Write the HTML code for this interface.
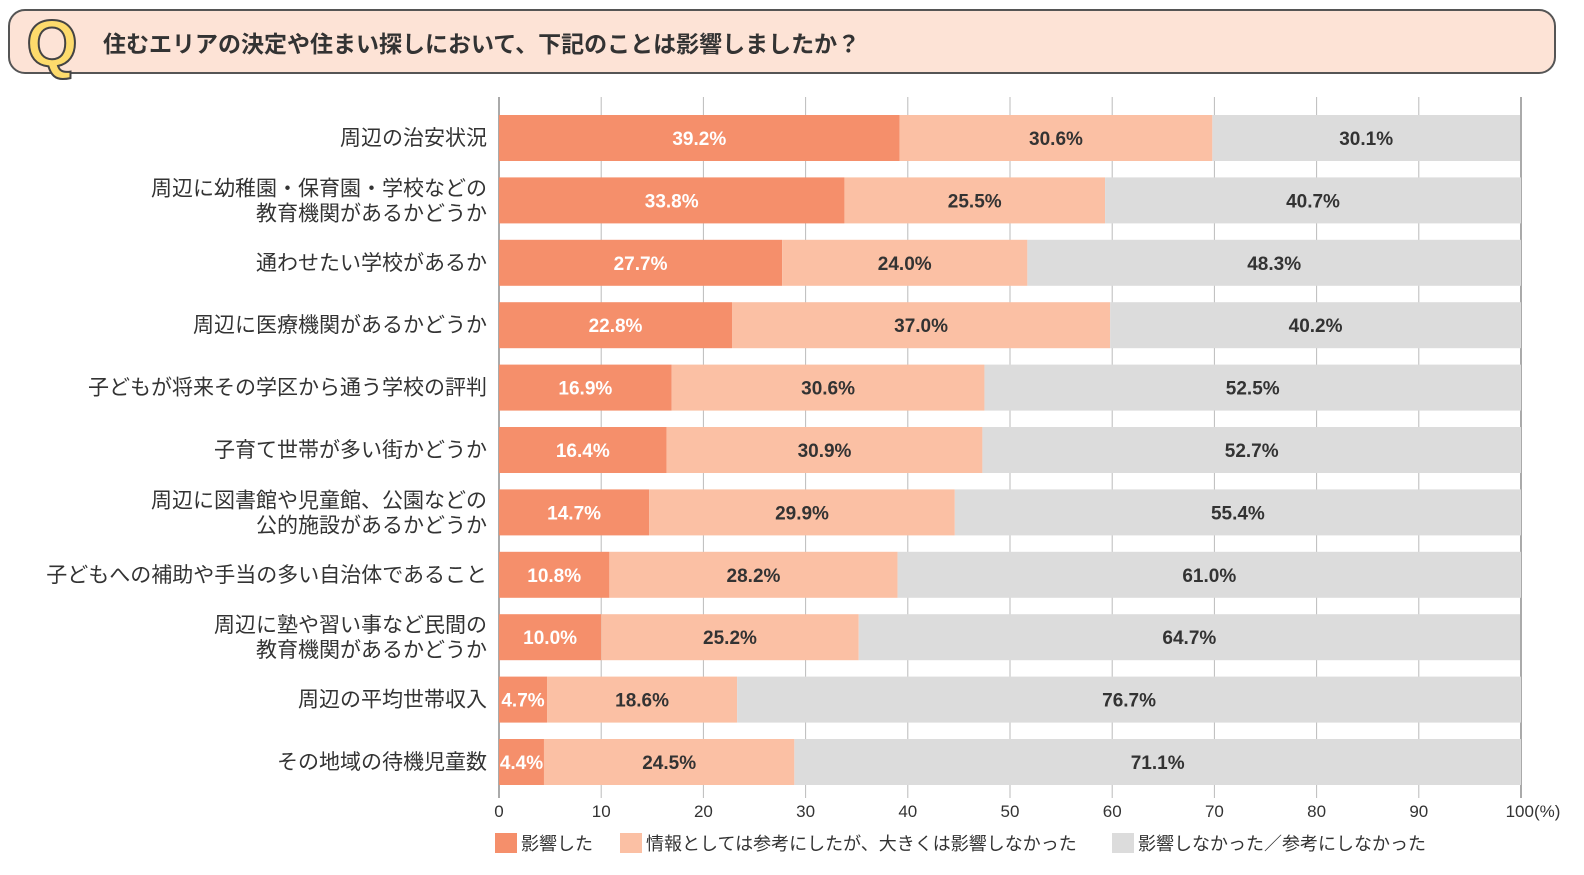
<!DOCTYPE html>
<html><head><meta charset="utf-8"><style>
body{margin:0;width:1584px;height:870px;background:#fff;font-family:"Liberation Sans","Noto Sans CJK JP",sans-serif;overflow:hidden}
</style></head><body>
<svg width="1584" height="870" xmlns="http://www.w3.org/2000/svg" font-family="Liberation Sans, Noto Sans CJK JP, sans-serif">
<g>
<rect x="9" y="10" width="1546" height="63" rx="16" fill="#fde3d6" stroke="#555" stroke-width="2"/>
<text x="52" y="66" text-anchor="middle" font-size="66" font-weight="bold" fill="#fddb6c" stroke="#444" stroke-width="2">Q</text>
<text x="103" y="52" font-size="23" font-weight="bold" fill="#333">住むエリアの決定や住まい探しにおいて、下記のことは影響しましたか？</text>
</g>
<g id="grid"></g><g id="bars"></g><g id="axis"></g>
<g font-size="18" fill="#333">
<rect x="495" y="833" width="22" height="20" fill="#f58f6b"/>
<text x="521" y="850">影響した</text>
<rect x="620" y="833" width="22" height="20" fill="#fbc0a4"/>
<text x="646" y="850">情報としては参考にしたが、大きくは影響しなかった</text>
<rect x="1112" y="833" width="22" height="20" fill="#dcdcdc"/>
<text x="1138" y="850">影響しなかった／参考にしなかった</text>
</g>
</svg>
<script>
const categories=[["周辺の治安状況"],["周辺に幼稚園・保育園・学校などの","教育機関があるかどうか"],["通わせたい学校があるか"],["周辺に医療機関があるかどうか"],["子どもが将来その学区から通う学校の評判"],["子育て世帯が多い街かどうか"],["周辺に図書館や児童館、公園などの","公的施設があるかどうか"],["子どもへの補助や手当の多い自治体であること"],["周辺に塾や習い事など民間の","教育機関があるかどうか"],["周辺の平均世帯収入"],["その地域の待機児童数"]];
const influenced=[39.2,33.8,27.7,22.8,16.9,16.4,14.7,10.8,10.0,4.7,4.4];
const reference=[30.6,25.5,24.0,37.0,30.6,30.9,29.9,28.2,25.2,18.6,24.5];
const notInfluenced=[30.1,40.7,48.3,40.2,52.5,52.7,55.4,61.0,64.7,76.7,71.1];
const ticks=[0,10,20,30,40,50,60,70,80,90,100];
const NS="http://www.w3.org/2000/svg";
const X=v=>499+v*10.22;
const Y=i=>138+i*62.4;
function mk(t,a,p){const e=document.createElementNS(NS,t);for(const k in a)e.setAttribute(k,a[k]);p.appendChild(e);return e;}
const grid=document.getElementById('grid'),bars=document.getElementById('bars'),axis=document.getElementById('axis');
ticks.forEach(t=>{
const l=mk('line',{x1:X(t),x2:X(t),y1:97,y2:798,stroke:t===0||t===100?'#555':'#bbb','stroke-width':1},grid);


const tx=mk('text',{x:X(t)+(t===100?12:0),y:817,'text-anchor':'middle','font-size':17,fill:'#333'},axis);
tx.textContent=t===100?'100(%)':String(t);


});
const series=[[influenced,'#f58f6b','#fff','influenced'],[reference,'#fbc0a4','#333','reference'],[notInfluenced,'#dcdcdc','#333','not-influenced']];
categories.forEach((c,i)=>{
let acc=0;const cy=Y(i);
series.forEach(([arr,col,tc,nm])=>{
const v=arr[i];const x0=X(acc),x1=X(Math.min(acc+v,100));
const r=mk('rect',{x:x0,y:cy-23,width:x1-x0,height:46,fill:col},bars);


const t=mk('text',{x:(x0+x1)/2,y:cy+7,'text-anchor':'middle','font-size':19,'font-weight':'bold',fill:tc},bars);
t.textContent=v.toFixed(1)+'%';


acc+=v;});
const lab=mk('text',{'text-anchor':'end','font-size':21,fill:'#333'},bars);


c.forEach((s,j)=>{const ts=mk('tspan',{x:487,y:cy+7+(c.length===2?(j===0?-12:13):0)},lab);ts.textContent=s;});
});
</script>
</body></html>
